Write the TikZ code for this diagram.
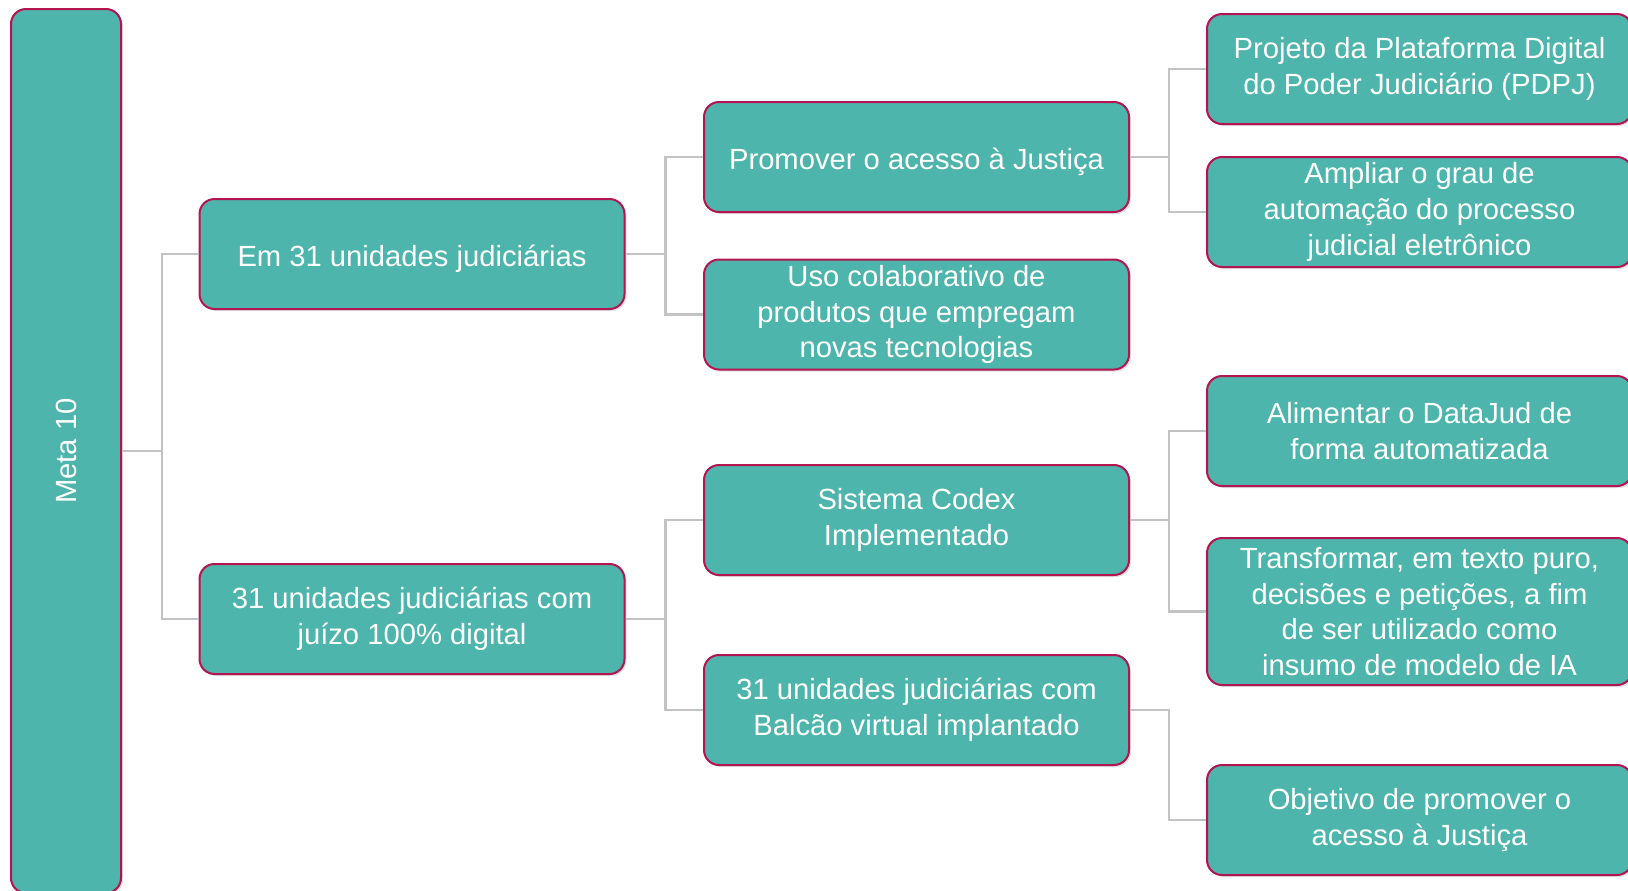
\documentclass[tikz,border=0pt]{standalone}
\usepackage{fontspec}
\setmainfont{Liberation Sans}
\usepackage{tikz}
\usetikzlibrary{shadows}
\usepackage{xcolor}
\definecolor{metateal}{RGB}{77,181,171}
\definecolor{metaborder}{RGB}{180,20,80}
\definecolor{linkgray}{RGB}{195,195,195}

\begin{document}
\begin{tikzpicture}[x=0.5pt,y=-0.5pt,
    box/.style={rectangle,draw=metaborder,line width=1pt,fill=metateal,rounded corners=7.5pt,
        text=white,align=center,inner sep=2pt,minimum width=212.5pt,minimum height=55pt,
        font=\fontsize{14.6pt}{17.9pt}\selectfont,
        execute at begin node={\rule{0pt}{15.5pt}},
        drop shadow={opacity=0.25,shadow xshift=1pt,shadow yshift=-1pt}},
    link/.style={draw=linkgray,line width=1.1pt}]
        \useasboundingbox (0,0) rectangle (1628,890);

        % Root
        \node[box,minimum width=55pt,minimum height=442pt] (meta) at (66,451) {};
        \node[text=white,rotate=90,font=\fontsize{14.6pt}{17.9pt}\selectfont] (metalabel) at (meta.center) {Meta 10};

        % Level 1
        \node[box] (unidades) at (412,254) {Em 31 unidades judiciárias};
        \node[box] (digital) at (412,619) {31 unidades judiciárias com\\juízo 100\% digital};

        % Level 2
        \node[box] (acesso) at (916.5,157) {Promover o acesso à Justiça};
        \node[box] (colab) at (916.5,314.5) {Uso colaborativo de\\produtos que empregam\\novas tecnologias};
        \node[box] (codex) at (916.5,520) {Sistema Codex\\Implementado};
        \node[box] (balcao) at (916.5,710) {31 unidades judiciárias com\\Balcão virtual implantado};

        % Level 3
        \node[box] (pdpj) at (1419.5,69) {Projeto da Plataforma Digital\\do Poder Judiciário (PDPJ)};
        \node[box] (automacao) at (1419.5,212) {Ampliar o grau de\\automação do processo\\judicial eletrônico};
        \node[box] (datajud) at (1419.5,431) {Alimentar o DataJud de\\forma automatizada};
        \node[box,minimum height=73.5pt] (texto) at (1419.5,611.5) {Transformar, em texto puro,\\decisões e petições, a fim\\de ser utilizado como\\insumo de modelo de IA};
        \node[box] (objetivo) at (1419.5,820) {Objetivo de promover o\\acesso à Justiça};

        % Connectors
        \draw[link] (meta.east) -- ++(40,0) |- (unidades.west);
        \draw[link] (meta.east) -- ++(40,0) |- (digital.west);
        \draw[link] (unidades.east) -- ++(40,0) |- (acesso.west);
        \draw[link] (unidades.east) -- ++(40,0) |- (colab.west);
        \draw[link] (digital.east) -- ++(40,0) |- (codex.west);
        \draw[link] (digital.east) -- ++(40,0) |- (balcao.west);
        \draw[link] (acesso.east) -- ++(39,0) |- (pdpj.west);
        \draw[link] (acesso.east) -- ++(39,0) |- (automacao.west);
        \draw[link] (codex.east) -- ++(39,0) |- (datajud.west);
        \draw[link] (codex.east) -- ++(39,0) |- (texto.west);
        \draw[link] (balcao.east) -- ++(39,0) |- (objetivo.west);
    \end{tikzpicture}
\end{document}
